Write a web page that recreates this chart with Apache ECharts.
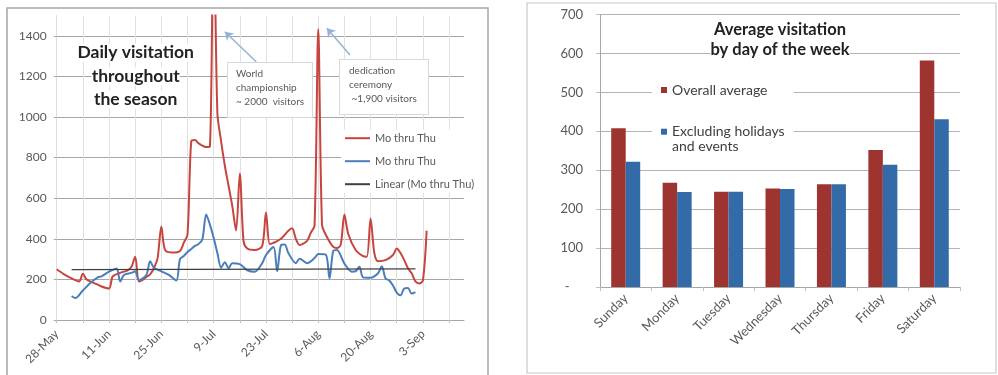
<!DOCTYPE html>
<html>
<head>
<meta charset="utf-8">
<script src="https://cdn.jsdelivr.net/npm/echarts@6/dist/echarts.min.js"></script>
<style>
  html, body { margin: 0; padding: 0; background: #fff; }
  #chart { width: 998px; height: 375px; }
</style>
</head>
<body>
<div id="chart"></div>
<script>
// ---- Daily visitation (days counted from 28-May) ----
const redDays   = [0, 2, 4, 6, 7, 8, 10, 12, 14, 15, 17, 19, 20, 21, 22, 23, 24, 25, 26, 27, 28, 29, 31, 33, 34, 35, 36, 37, 38, 40, 41, 42, 43, 44, 45, 46, 47, 48, 49, 50, 51, 53, 55, 56, 57, 58, 60, 62, 63, 64, 65, 67, 68, 69, 70, 71, 72, 74, 75, 76, 77, 78, 80, 82, 83, 84, 85, 86, 88, 90, 91, 92, 93, 94, 95, 96, 97, 98, 99];
const redVisits = [250, 225, 205, 190, 228, 200, 182, 165, 155, 215, 232, 245, 262, 312, 190, 198, 212, 225, 255, 305, 460, 345, 332, 340, 380, 420, 880, 887, 870, 852, 855, 2000, 1020, 880, 760, 660, 560, 440, 722, 390, 352, 345, 365, 530, 375, 380, 400, 440, 452, 400, 370, 390, 430, 465, 1432, 470, 420, 360, 355, 370, 520, 425, 345, 315, 312, 500, 330, 290, 295, 320, 352, 330, 295, 255, 230, 190, 180, 195, 440];

const blueDays   = [4, 5, 7, 9, 11, 12, 14, 16, 17, 18, 20, 21, 22, 24, 25, 26, 28, 30, 32, 33, 34, 35, 36, 37, 38, 39, 40, 41, 42, 43, 44, 45, 46, 47, 49, 51, 53, 55, 56, 58, 59, 60, 61, 62, 64, 65, 67, 69, 70, 72, 73, 74, 75, 77, 79, 80, 81, 82, 84, 86, 87, 88, 89, 90, 91, 92, 93, 94, 95, 96];
const blueVisits = [118, 108, 145, 182, 210, 215, 238, 254, 190, 222, 232, 240, 197, 222, 290, 258, 240, 222, 195, 300, 315, 335, 350, 365, 375, 398, 520, 470, 405, 330, 258, 285, 255, 280, 275, 245, 238, 280, 320, 360, 240, 368, 372, 330, 280, 302, 280, 305, 325, 322, 205, 340, 345, 278, 238, 240, 262, 210, 208, 230, 265, 205, 195, 170, 135, 122, 155, 158, 130, 137];

const trendDays   = [4, 96];
const trendVisits = [248, 252];

const dateTicks = ['28-May', '11-Jun', '25-Jun', '9-Jul', '23-Jul', '6-Aug', '20-Aug', '3-Sep'];

// ---- Average visitation by day of the week ----
const weekdays     = ['Sunday', 'Monday', 'Tuesday', 'Wednesday', 'Thursday', 'Friday', 'Saturday'];
const overallAvg   = [408, 268, 245, 253, 264, 352, 582];
const excludingAvg = [322, 244, 245, 252, 264, 314, 431];

const pairs = (xs, ys) => xs.map((x, i) => [x, ys[i]]);

const FONT = 'Lato, "Open Sans", sans-serif';
const AXIS_TEXT = '#595959';

const chart = echarts.init(document.getElementById('chart'), null, { renderer: 'canvas' });

chart.setOption({
  animation: false,
  backgroundColor: '#fff',
  textStyle: { fontFamily: FONT },
  grid: [
    { left: 56.7, top: 15.5, right: 534, bottom: 55 },
    { left: 600, top: 14.5, right: 38, bottom: 88 }
  ],
  xAxis: [
    {
      gridIndex: 0, type: 'value', min: 0, max: 109, interval: 7,
      axisLine: { show: true, lineStyle: { color: '#a6a6a6', width: 1 } },
      axisTick: { show: true, length: 3, lineStyle: { color: '#bfbfbf' } },
      splitLine: { show: true, showMaxLine: false, lineStyle: { color: '#e0e0e0', width: 1 } },
      axisLabel: {
        rotate: 45, margin: 12, fontSize: 12, color: AXIS_TEXT, fontFamily: FONT,
        showMaxLabel: false,
        formatter: v => (v % 14 === 0 && dateTicks[v / 14]) ? dateTicks[v / 14] : ''
      }
    },
    {
      gridIndex: 1, type: 'category', data: weekdays,
      axisLine: { show: true, lineStyle: { color: '#a6a6a6' } },
      axisTick: { show: true, length: 4, lineStyle: { color: '#bfbfbf' } },
      axisLabel: { rotate: 45, margin: 9, fontSize: 13, color: AXIS_TEXT, fontFamily: FONT, interval: 0 }
    }
  ],
  yAxis: [
    {
      gridIndex: 0, type: 'value', min: 0, max: 1500, interval: 200,
      axisLine: { show: true, lineStyle: { color: '#dedede' } },
      axisTick: { show: true, length: 3, lineStyle: { color: '#a6a6a6' } },
      splitLine: { show: true, showMaxLine: false, lineStyle: { color: '#a6a6a6', width: 1 } },
      axisLabel: {
        margin: 10, fontSize: 12, color: AXIS_TEXT, fontFamily: FONT, showMaxLabel: false,
        formatter: v => String(v)
      }
    },
    {
      gridIndex: 1, type: 'value', min: 0, max: 700, interval: 100,
      axisLine: { show: true, lineStyle: { color: '#a6a6a6' } },
      axisTick: { show: true, length: 4, lineStyle: { color: '#bfbfbf' } },
      splitLine: { show: true, lineStyle: { color: '#b3b3b3', width: 1 } },
      axisLabel: {
        margin: 17, fontSize: 13, color: AXIS_TEXT, fontFamily: FONT,
        formatter: v => v === 0 ? '-    ' : String(v)
      }
    }
  ],
  legend: [
    {
      orient: 'vertical', left: 341, top: 129.7, padding: [2, 4],
      backgroundColor: '#fff', selectedMode: false,
      icon: 'rect', itemWidth: 25, itemHeight: 2, itemGap: 10,
      textStyle: { fontSize: 11, lineHeight: 13, color: AXIS_TEXT, fontFamily: FONT },
      data: ['Mo thru Thu', 'Mo thru Thu ', 'Linear (Mo thru Thu)']
    },
    {
      orient: 'vertical', left: 652, top: 78.5, padding: [4, 9, 4, 9],
      backgroundColor: '#fff', selectedMode: false,
      icon: 'rect', itemWidth: 6, itemHeight: 6, itemGap: 11.7,
      textStyle: { fontSize: 14, lineHeight: 15, color: '#404040', fontFamily: FONT },
      // the two-line entry gets a blank first line so its marker sits beside the first text line
      formatter: name => name.indexOf('\n') >= 0 ? '\n' + name : name,
      data: ['Overall average', 'Excluding holidays\nand events']
    }
  ],
  series: [
    {
      name: 'Mo thru Thu', type: 'line', xAxisIndex: 0, yAxisIndex: 0,
      data: pairs(redDays, redVisits), symbol: 'none', smooth: 0.3, clip: true,
      lineStyle: { color: '#c8443f', width: 2 }, itemStyle: { color: '#c8443f' }, z: 2
    },
    {
      name: 'Mo thru Thu ', type: 'line', xAxisIndex: 0, yAxisIndex: 0,
      data: pairs(blueDays, blueVisits), symbol: 'none', smooth: 0.3, clip: true,
      lineStyle: { color: '#4a7ebb', width: 2 }, itemStyle: { color: '#4a7ebb' }, z: 3
    },
    {
      name: 'Linear (Mo thru Thu)', type: 'line', xAxisIndex: 0, yAxisIndex: 0,
      data: pairs(trendDays, trendVisits), symbol: 'none',
      lineStyle: { color: '#404040', width: 1.2 }, itemStyle: { color: '#404040' }, z: 4,
      markLine: {
        silent: true, animation: false,
        symbol: ['none', 'arrow'], symbolSize: 8,
        label: { show: false },
        lineStyle: { color: '#95b3d7', width: 1.5, type: 'solid' },
        data: [
          [{ coord: [53.4, 1272] }, { coord: [45, 1420] }],
          [{ coord: [78.5, 1305] }, { coord: [72.3, 1437] }]
        ]
      }
    },
    {
      name: 'Overall average', type: 'bar', xAxisIndex: 1, yAxisIndex: 1,
      data: overallAvg, barWidth: 14.5, barGap: '0%',
      itemStyle: { color: '#9e3430' }
    },
    {
      name: 'Excluding holidays\nand events', type: 'bar', xAxisIndex: 1, yAxisIndex: 1,
      data: excludingAvg, barWidth: 14.5, barGap: '0%',
      itemStyle: { color: '#336aa8' }
    }
  ],
  graphic: [
    // chart frames
    { type: 'rect', shape: { x: 7, y: 8, width: 481, height: 400 }, style: { fill: 'none', stroke: '#a6a6a6', lineWidth: 1.5 }, z: 100 },
    { type: 'rect', shape: { x: 527, y: 3, width: 469, height: 370 }, style: { fill: 'none', stroke: '#c8c8c8', lineWidth: 1.2 }, z: 100 },
    // titles
    {
      type: 'text', x: 135.7, y: 41, z: 50,
      style: {
        text: '{t|Daily visitation}\n{t|throughout}\n{t|the season}',
        align: 'center',
        rich: { t: { fontFamily: FONT, fontWeight: 'bold', fontSize: 17.5, lineHeight: 23.5, fill: '#222', backgroundColor: '#fff' } }
      }
    },
    {
      type: 'text', x: 780, y: 20, z: 50,
      style: {
        text: '{t|Average visitation}\n{t|by day of the week}',
        align: 'center',
        rich: { t: { fontFamily: FONT, fontWeight: 'bold', fontSize: 16.5, lineHeight: 20, fill: '#222', backgroundColor: '#fff' } }
      }
    },
    // event call-outs
    {
      type: 'text', x: 228, y: 63, z: 50,
      style: {
        text: 'World\nchampionship\n~ 2000  visitors',
        fontFamily: FONT, fontSize: 10, lineHeight: 14, fill: '#595959',
        backgroundColor: '#fff', borderColor: '#d9d9d9', borderWidth: 1,
        padding: [4, 12, 8, 8], width: 64
      }
    },
    {
      type: 'text', x: 340, y: 60, z: 50,
      style: {
        text: 'dedication\nceremony\n ~1,900 visitors',
        fontFamily: FONT, fontSize: 10, lineHeight: 14, fill: '#595959',
        backgroundColor: '#fff', borderColor: '#d9d9d9', borderWidth: 1,
        padding: [4, 10, 8, 9], width: 69
      }
    }
  ]
});
</script>
</body>
</html>
